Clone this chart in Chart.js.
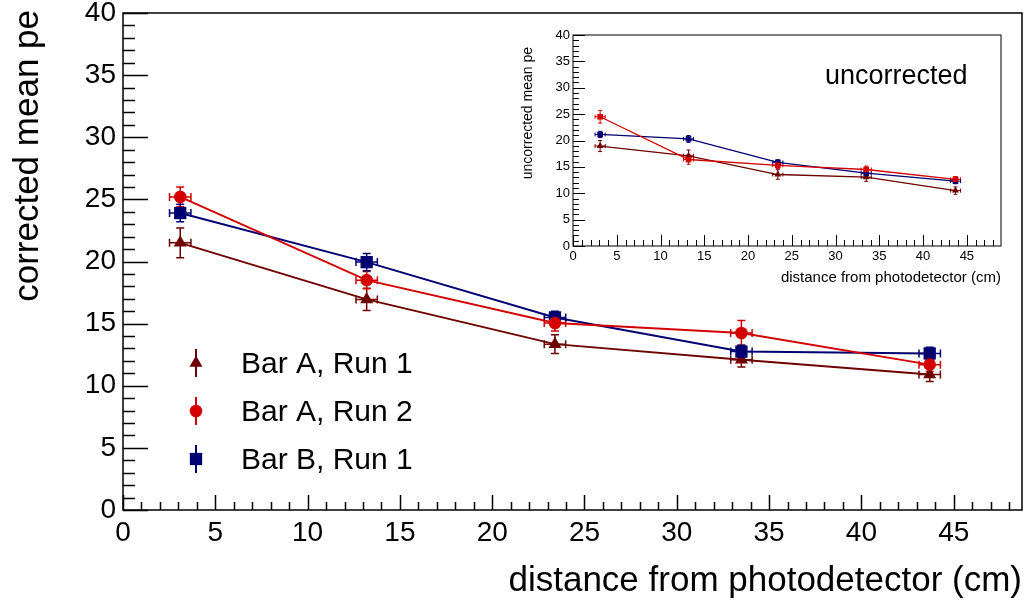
<!DOCTYPE html>
<html><head><meta charset="utf-8">
<script src="https://cdn.jsdelivr.net/npm/chart.js@4.4.1/dist/chart.umd.min.js"></script>
<style>
html,body{margin:0;padding:0;background:#fff;}
#wrap{position:relative;width:1024px;height:601px;overflow:hidden;background:#fff;}
#main{position:absolute;left:0;top:0;}
#inset{position:absolute;left:510px;top:20px;}
</style></head><body>
<div id="wrap"><canvas id="main" width="1024" height="601"></canvas><canvas id="inset" width="505" height="275"></canvas></div>
<script>
// ---------- data ----------
const distance    = [3.1, 13.2, 23.4, 33.5, 43.7];
const distanceErr = [0.58, 0.58, 0.58, 0.58, 0.58];
const seriesLabels = ['Bar A, Run 1', 'Bar A, Run 2', 'Bar B, Run 1'];

const corrA1    = [21.5, 16.95, 13.35, 12.1, 10.9];
const corrA1Err = [1.2, 0.9, 0.75, 0.6, 0.55];
const corrA2    = [25.2, 18.5, 15.05, 14.25, 11.7];
const corrA2Err = [0.8, 0.7, 0.65, 1.0, 0.55];
const corrB1    = [23.9, 19.95, 15.5, 12.75, 12.6];
const corrB1Err = [0.7, 0.7, 0.5, 0.5, 0.5];

const uncA1    = [18.95, 17.1, 13.55, 13.05, 10.5];
const uncA1Err = [1.05, 1.1, 0.9, 0.8, 0.7];
const uncA2    = [24.5, 16.4, 15.3, 14.5, 12.65];
const uncA2Err = [1.2, 0.9, 0.6, 0.65, 0.5];
const uncB1    = [21.15, 20.3, 15.85, 13.8, 12.3];
const uncB1Err = [0.6, 0.65, 0.5, 0.5, 0.5];

const xTickLabels = ['0','5','10','15','20','25','30','35','40','45'];
const yTickLabels = ['0','5','10','15','20','25','30','35','40'];

const mainXTitle = 'distance from photodetector (cm)';
const mainYTitle = 'corrected mean pe';
const insetXTitle = 'distance from photodetector (cm)';
const insetYTitle = 'uncorrected mean pe';
const insetNote = 'uncorrected';

// ---------- styles ----------
const COLORS = ['#6e0000', '#d40000', '#000070'];
const FONT = '"Liberation Sans", Arial, Helvetica, sans-serif';

function pts(ys){ return distance.map((x,i)=>({x:x, y:ys[i]})); }

function drawMarker(ctx, style, x, y, r, color){
  ctx.save();
  ctx.fillStyle = color;
  ctx.beginPath();
  if (style === 'circle') { ctx.arc(x, y, r, 0, Math.PI*2); }
  else if (style === 'rect') { const s = r*Math.SQRT1_2; ctx.rect(x-s, y-s, 2*s, 2*s); }
  else if (style === 'triangle') {
    for (let k=0;k<3;k++){ const a = k*2*Math.PI/3; const px = x + Math.sin(a)*r, py = y - Math.cos(a)*r; k?ctx.lineTo(px,py):ctx.moveTo(px,py); }
    ctx.closePath();
  }
  ctx.fill();
  ctx.restore();
}

function makeDatasets(series, errs, styles, radii, lw, orders){
  return series.map((s,i)=>({
    label: seriesLabels[i],
    data: pts(s),
    yErr: errs[i],
    xErr: distanceErr,
    showLine: true,
    borderColor: COLORS[i],
    backgroundColor: COLORS[i],
    borderWidth: lw,
    pointStyle: styles[i],
    pointRadius: radii[i],
    pointHoverRadius: radii[i],
    pointBorderWidth: 0,
    pointBackgroundColor: COLORS[i],
    order: orders[i],
    tension: 0
  }));
}

function rootPlugin(cfg){
  return {
    id: 'root_' + cfg.name,
    beforeDatasetsDraw(chart){
      const ctx = chart.ctx, xs = chart.scales.x, ys = chart.scales.y;
      chart.data.datasets.forEach(ds=>{
        ctx.save();
        ctx.strokeStyle = ds.borderColor;
        ctx.lineWidth = cfg.errLW;
        ds.data.forEach((p,i)=>{
          const px = xs.getPixelForValue(p.x), py = ys.getPixelForValue(p.y);
          const y1 = ys.getPixelForValue(p.y + ds.yErr[i]), y2 = ys.getPixelForValue(p.y - ds.yErr[i]);
          const x1 = xs.getPixelForValue(p.x - ds.xErr[i]), x2 = xs.getPixelForValue(p.x + ds.xErr[i]);
          const c = cfg.cap;
          ctx.beginPath();
          ctx.moveTo(px, y1); ctx.lineTo(px, y2);
          ctx.moveTo(px-c, y1); ctx.lineTo(px+c, y1);
          ctx.moveTo(px-c, y2); ctx.lineTo(px+c, y2);
          ctx.moveTo(x1, py); ctx.lineTo(x2, py);
          ctx.moveTo(x1, py-c); ctx.lineTo(x1, py+c);
          ctx.moveTo(x2, py-c); ctx.lineTo(x2, py+c);
          ctx.stroke();
        });
        ctx.restore();
      });
    },
    afterDraw(chart){
      const ctx = chart.ctx, a = chart.chartArea, xs = chart.scales.x, ys = chart.scales.y;
      ctx.save();
      ctx.strokeStyle = '#000';
      ctx.lineWidth = cfg.frameLW;
      ctx.strokeRect(a.left, a.top, a.right - a.left, a.bottom - a.top);
      ctx.lineWidth = cfg.tickLW;
      ctx.beginPath();
      for (let v = 0; v <= ys.max + 1e-9; v += 1){
        const py = Math.round(ys.getPixelForValue(v)) + 0.5;
        const L = (v % 5 === 0) ? cfg.yMajor : cfg.yMinor;
        ctx.moveTo(a.left, py); ctx.lineTo(a.left + L, py);
      }
      for (let v = 0; v <= xs.max + 1e-9; v += 1){
        const px = Math.round(xs.getPixelForValue(v)) + 0.5;
        const L = (v % 5 === 0) ? cfg.xMajor : cfg.xMinor;
        ctx.moveTo(px, a.bottom); ctx.lineTo(px, a.bottom - L);
      }
      ctx.stroke();
      // titles
      ctx.fillStyle = '#000';
      ctx.font = cfg.xTitleFont + 'px ' + FONT;
      ctx.textAlign = 'right'; ctx.textBaseline = 'alphabetic';
      ctx.fillText(cfg.xTitle, a.right, cfg.xTitleY);
      ctx.save();
      ctx.font = cfg.yTitleFont + 'px ' + FONT;
      ctx.translate(cfg.yTitleX, a.top + cfg.yTitleOff);
      ctx.rotate(-Math.PI/2);
      ctx.textAlign = 'right';
      ctx.fillText(cfg.yTitle, 0, 0);
      ctx.restore();
      if (cfg.extra) cfg.extra(chart, ctx);
      ctx.restore();
    }
  };
}

function axisOpts(cfg){
  return {
    x: {
      type: 'linear', min: 0, max: cfg.xMax,
      grid: {display: false, drawTicks: false},
      border: {display: false},
      afterFit: s => { s.height = cfg.xH; s.paddingLeft = 0; s.paddingRight = 0; },
      ticks: {
        stepSize: 5, includeBounds: false, autoSkip: false, maxRotation: 0,
        color: '#000', padding: cfg.xPad,
        font: {family: FONT, size: cfg.tickFont},
        callback: v => { const i = xTickLabels.indexOf(String(v)); return i >= 0 ? xTickLabels[i] : ''; }
      }
    },
    y: {
      type: 'linear', min: 0, max: 40,
      grid: {display: false, drawTicks: false},
      border: {display: false},
      afterFit: s => { s.width = cfg.yW; s.paddingTop = 0; s.paddingBottom = 0; },
      ticks: {
        stepSize: 5, includeBounds: false, autoSkip: false,
        color: '#000', padding: cfg.yPad,
        font: {family: FONT, size: cfg.tickFont},
        callback: v => { const i = yTickLabels.indexOf(String(v)); return i >= 0 ? yTickLabels[i] : ''; }
      }
    }
  };
}

// ---------- main chart ----------
const mainStyles = ['triangle', 'circle', 'rect'];
const mainCfg = {
  name: 'main', xMax: 48.7, xH: 91, yW: 123, xPad: 6, yPad: 7, tickFont: 28,
  errLW: 1.5, cap: 4, frameLW: 1.5, tickLW: 1.5,
  yMajor: 25, yMinor: 12, xMajor: 15, xMinor: 8,
  xTitle: mainXTitle, xTitleFont: 35, xTitleY: 591,
  yTitle: mainYTitle, yTitleFont: 35, yTitleX: 38, yTitleOff: -3,
  extra: (chart, ctx) => {
    const rows = [363, 411, 459];
    const radii = [7.5, 6.3, 8.7];
    chart.data.datasets.forEach((ds, i) => {
      const x = 196, y = rows[i];
      ctx.save();
      ctx.strokeStyle = ds.borderColor; ctx.lineWidth = 2;
      ctx.beginPath(); ctx.moveTo(x, y - 14); ctx.lineTo(x, y + 14); ctx.stroke();
      drawMarker(ctx, mainStyles[i], x, y, radii[i], ds.borderColor);
      ctx.fillStyle = '#000';
      ctx.font = '30px ' + FONT;
      ctx.textAlign = 'left'; ctx.textBaseline = 'alphabetic';
      ctx.fillText(ds.label, 241, y + 10);
      ctx.restore();
    });
  }
};
new Chart(document.getElementById('main'), {
  type: 'scatter',
  data: { datasets: makeDatasets([corrA1, corrA2, corrB1], [corrA1Err, corrA2Err, corrB1Err], mainStyles, [7.5, 6.3, 8.7], 2, [2, 0, 1]) },
  options: {
    responsive: false, animation: false, devicePixelRatio: 1,
    layout: {autoPadding: false, padding: {top: 13, right: 2, left: 0, bottom: 0}},
    plugins: {legend: {display: false}, tooltip: {enabled: false}},
    scales: axisOpts(mainCfg)
  },
  plugins: [rootPlugin(mainCfg)]
});

// ---------- inset chart ----------
const insetStyles = ['triangle', 'rect', 'rect'];
const insetCfg = {
  name: 'inset', xMax: 48.9, xH: 49, yW: 63, xPad: 3, yPad: 3, tickFont: 13,
  errLW: 1, cap: 2, frameLW: 1, tickLW: 1,
  yMajor: 12, yMinor: 6, xMajor: 11, xMinor: 6,
  xTitle: insetXTitle, xTitleFont: 15, xTitleY: 262,
  yTitle: insetYTitle, yTitleFont: 14, yTitleX: 22, yTitleOff: 12,
  extra: (chart, ctx) => {
    ctx.fillStyle = '#000';
    ctx.font = '27px ' + FONT;
    ctx.textAlign = 'left'; ctx.textBaseline = 'alphabetic';
    ctx.fillText(insetNote, 315, 64);
  }
};
new Chart(document.getElementById('inset'), {
  type: 'scatter',
  data: { datasets: makeDatasets([uncA1, uncA2, uncB1], [uncA1Err, uncA2Err, uncB1Err], insetStyles, [4, 4, 4], 1.3, [2, 0, 1]) },
  options: {
    responsive: false, animation: false, devicePixelRatio: 1,
    layout: {autoPadding: false, padding: {top: 15, right: 14, left: 0, bottom: 0}},
    plugins: {legend: {display: false}, tooltip: {enabled: false}},
    scales: axisOpts(insetCfg)
  },
  plugins: [rootPlugin(insetCfg)]
});
</script>
</body></html>
